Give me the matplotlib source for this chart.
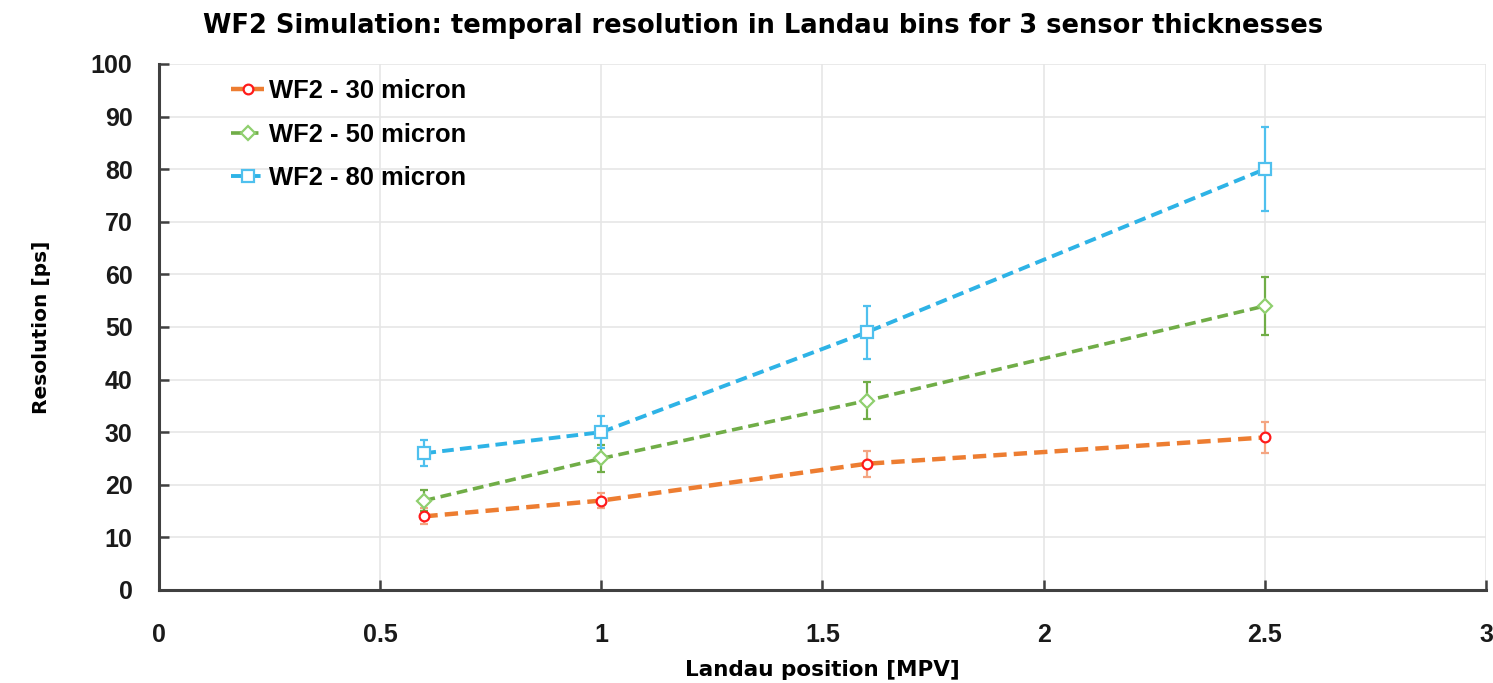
import matplotlib.pyplot as plt
from matplotlib.ticker import FuncFormatter

# Landau bin positions (in units of MPV)
landau_pos = [0.6, 1.0, 1.6, 2.5]

# time resolution [ps] and uncertainty per sensor thickness
res_30 = [14, 17, 24, 29]
err_30 = [1.5, 1.5, 2.5, 3.0]
res_50 = [17, 25, 36, 54]
err_50 = [2.0, 2.5, 3.5, 5.5]
res_80 = [26, 30, 49, 80]
err_80 = [2.5, 3.0, 5.0, 8.0]

labels = ["WF2 - 30 micron", "WF2 - 50 micron", "WF2 - 80 micron"]

STYLES = [
    dict(line="#ED7D31", edge="#FF1A1A", ecolor="#F4A582", marker="o", ms=7, lw=3.2),
    dict(line="#70AD47", edge="#8FCF6F", ecolor="#70AD47", marker="D", ms=7, lw=2.6),
    dict(line="#2EB3E6", edge="#4FC0EE", ecolor="#4FC0EE", marker="s", ms=8, lw=2.8),
]

fig = plt.figure(figsize=(14.93, 6.83), dpi=100)
ax = fig.add_axes([0.1065, 0.1362, 0.8888, 0.7701])

series = [(res_30, err_30), (res_50, err_50), (res_80, err_80)]
handles = []
for (vals, errs), label, st in zip(series, labels, STYLES):
    cont = ax.errorbar(
        landau_pos, vals, yerr=errs,
        color=st["line"], ecolor=st["ecolor"], elinewidth=1.6, capsize=3, capthick=1.6,
        linestyle=(0, (3, 1.6)), linewidth=st["lw"],
        marker=st["marker"], markersize=st["ms"], markerfacecolor="white",
        markeredgecolor=st["edge"], markeredgewidth=1.6,
        label=label, zorder=3,
    )
    handles.append(cont[0])

ax.set_xlim(0, 3)
ax.set_ylim(0, 100)
ax.set_xticks([0, 0.5, 1, 1.5, 2, 2.5, 3])
ax.set_yticks(range(0, 101, 10))
ax.xaxis.set_major_formatter(FuncFormatter(lambda v, p: f"{v:g}"))
ax.grid(True, color="#E6E6E6", linewidth=1.2, zorder=0)
ax.set_axisbelow(True)

for side in ["top", "right"]:
    ax.spines[side].set_visible(False)
for side in ["left", "bottom"]:
    ax.spines[side].set_color("#404040")
    ax.spines[side].set_linewidth(2.2)

ax.tick_params(direction="in", length=7, width=1.8, color="#404040",
               labelsize=18, labelcolor="#1a1a1a")
ax.tick_params(axis="x", pad=24)
ax.tick_params(axis="y", pad=19)
for lbl in ax.get_xticklabels() + ax.get_yticklabels():
    lbl.set_fontweight("bold")
    lbl.set_fontfamily("Liberation Sans")

ax.set_xlabel("Landau position [MPV]", fontsize=15.5, fontweight="bold", labelpad=9)
ax.set_ylabel("Resolution [ps]", fontsize=14.5, fontweight="bold", labelpad=29)
ax.set_title("WF2 Simulation: temporal resolution in Landau bins for 3 sensor thicknesses",
             fontsize=18.5, fontweight="bold", pad=22, x=0.455)

ax.legend(handles=handles, labels=labels, loc="upper left",
          bbox_to_anchor=(0.037, 1.015), frameon=False,
          prop={"size": 18.4, "weight": "bold", "family": "Liberation Sans"},
          handlelength=1.3, handletextpad=0.2, labelspacing=0.76)

fig.savefig("out.png", dpi=100)
